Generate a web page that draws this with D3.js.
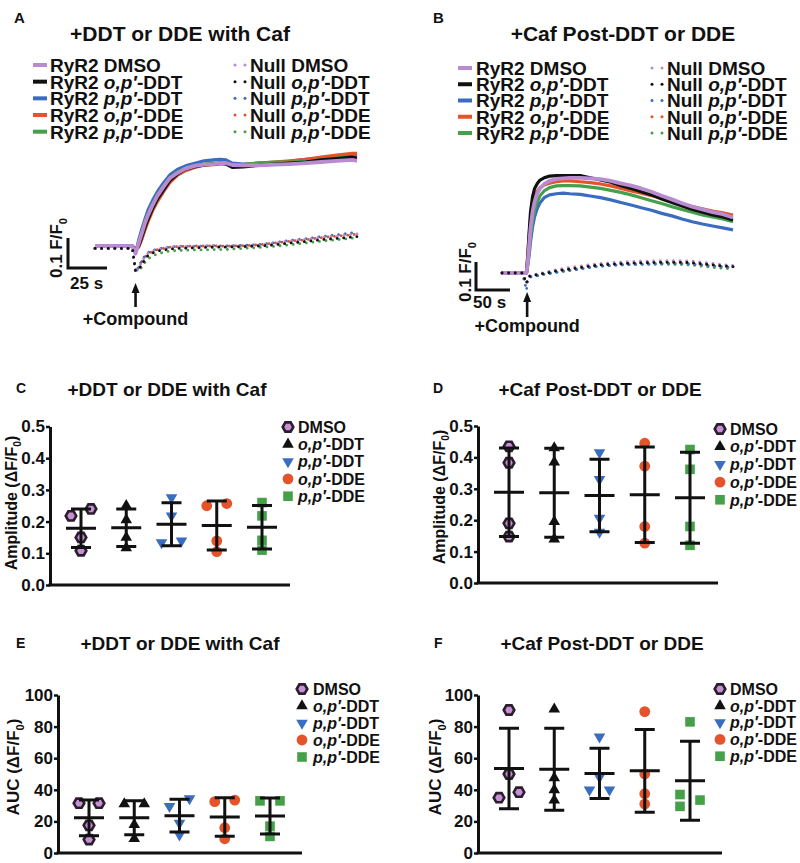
<!DOCTYPE html>
<html>
<head>
<meta charset="UTF-8" />
<title>DDT / DDE on RyR2</title>
<style>
  body { margin: 0; background: #fff; }
  svg { display: block; font-family: 'Liberation Sans', Arial, Helvetica, sans-serif; font-weight: bold; }
</style>
</head>
<body>
<svg id="fig" width="800" height="863"></svg>
<script src="https://cdnjs.cloudflare.com/ajax/libs/d3/7.8.5/d3.min.js"></script>
<script>
// ---- data ----
const compounds = ['DMSO', 'o,p′-DDT', 'p,p′-DDT', 'o,p′-DDE', 'p,p′-DDE']
const colors = ['#b98bd1', '#111111', '#3a6cc0', '#e4532a', '#46a04a']

// A: time (s) and F/F0 traces, compound added at 26 s
const timeA = [0, 10, 20, 24, 26, 28, 30, 32, 34, 37, 40, 44, 48, 53, 58, 64, 70, 76, 80, 84, 88, 95, 105, 115, 125, 135, 145, 155, 165, 168]
const ryrA = [
  [1, 1, 1, 1, 0.975, 1.009, 1.042, 1.076, 1.103, 1.137, 1.167, 1.198, 1.226, 1.244, 1.258, 1.267, 1.271, 1.273, 1.276, 1.276, 1.27, 1.269, 1.269, 1.271, 1.273, 1.276, 1.28, 1.284, 1.287, 1.284],
  [1, 1, 1, 1, 0.987, 1.0, 1.029, 1.062, 1.089, 1.126, 1.156, 1.187, 1.218, 1.24, 1.256, 1.264, 1.27, 1.273, 1.276, 1.273, 1.262, 1.264, 1.269, 1.273, 1.276, 1.28, 1.287, 1.291, 1.296, 1.293],
  [1, 1, 1, 1, 0.975, 1.02, 1.056, 1.089, 1.12, 1.153, 1.181, 1.211, 1.237, 1.256, 1.267, 1.276, 1.284, 1.287, 1.289, 1.287, 1.276, 1.273, 1.276, 1.278, 1.282, 1.289, 1.292, 1.298, 1.301, 1.3],
  [1, 1, 1, 1, 0.987, 0.996, 1.022, 1.053, 1.081, 1.118, 1.148, 1.181, 1.211, 1.236, 1.251, 1.262, 1.269, 1.271, 1.273, 1.276, 1.271, 1.271, 1.276, 1.28, 1.284, 1.289, 1.296, 1.303, 1.309, 1.309],
  [1, 1, 1, 1, 0.981, 1.011, 1.044, 1.078, 1.107, 1.14, 1.17, 1.2, 1.228, 1.247, 1.26, 1.269, 1.273, 1.276, 1.276, 1.276, 1.271, 1.271, 1.276, 1.28, 1.28, 1.282, 1.287, 1.292, 1.296, 1.296]
]
const nullA = [
  [0.992, 0.992, 0.992, 0.992, 0.909, 0.926, 0.948, 0.964, 0.976, 0.983, 0.989, 0.992, 0.996, 0.998, 0.998, 0.998, 1.0, 1.0, 0.998, 0.998, 1.0, 1.0, 1.003, 1.009, 1.017, 1.022, 1.029, 1.033, 1.039, 1.04],
  [0.992, 0.992, 0.992, 0.992, 0.918, 0.922, 0.938, 0.955, 0.968, 0.977, 0.983, 0.987, 0.99, 0.992, 0.993, 0.994, 0.995, 0.996, 0.996, 0.996, 0.997, 0.998, 1.0, 1.004, 1.01, 1.015, 1.021, 1.025, 1.03, 1.031],
  [0.992, 0.992, 0.992, 0.992, 0.912, 0.93, 0.952, 0.967, 0.978, 0.985, 0.99, 0.993, 0.997, 0.999, 0.999, 0.999, 1.0, 1.001, 1.0, 1.0, 1.001, 1.002, 1.005, 1.011, 1.019, 1.024, 1.031, 1.037, 1.044, 1.046],
  [0.992, 0.992, 0.992, 0.992, 0.915, 0.928, 0.948, 0.962, 0.974, 0.982, 0.988, 0.992, 0.996, 0.998, 0.999, 1.0, 1.0, 1.0, 1.0, 0.999, 1.0, 1.001, 1.004, 1.01, 1.016, 1.021, 1.028, 1.033, 1.038, 1.039],
  [0.992, 0.992, 0.992, 0.992, 0.92, 0.918, 0.93, 0.945, 0.957, 0.967, 0.974, 0.979, 0.983, 0.985, 0.986, 0.987, 0.987, 0.988, 0.988, 0.988, 0.99, 0.992, 0.995, 0.999, 1.004, 1.01, 1.016, 1.021, 1.026, 1.028]
]

// B: time (s) and F/F0 traces, compound added at 37 s
const timeB = [0, 10, 20, 30, 36, 38, 40, 42, 45, 48, 52, 56, 62, 70, 80, 90, 100, 115, 130, 145, 160, 175, 190, 205, 220, 235, 250, 265, 280, 295, 310, 325, 340]
const ryrB = [
  [1, 1, 1, 1, 1, 1.04, 1.1, 1.16, 1.219, 1.255, 1.285, 1.302, 1.317, 1.329, 1.336, 1.338, 1.34, 1.34, 1.338, 1.335, 1.329, 1.32, 1.312, 1.302, 1.29, 1.276, 1.263, 1.249, 1.237, 1.227, 1.217, 1.21, 1.198],
  [1, 1, 1, 1, 1, 1.064, 1.148, 1.219, 1.273, 1.302, 1.32, 1.332, 1.34, 1.346, 1.348, 1.348, 1.348, 1.348, 1.34, 1.332, 1.324, 1.312, 1.302, 1.29, 1.279, 1.264, 1.252, 1.239, 1.227, 1.217, 1.207, 1.2, 1.189],
  [1, 1, 1, 1, 1, 1.029, 1.064, 1.112, 1.165, 1.201, 1.231, 1.251, 1.269, 1.279, 1.283, 1.285, 1.283, 1.281, 1.275, 1.269, 1.261, 1.252, 1.243, 1.233, 1.224, 1.213, 1.204, 1.193, 1.183, 1.175, 1.168, 1.161, 1.154],
  [1, 1, 1, 1, 1, 1.064, 1.136, 1.195, 1.243, 1.273, 1.293, 1.305, 1.314, 1.321, 1.326, 1.329, 1.329, 1.326, 1.323, 1.318, 1.311, 1.302, 1.293, 1.285, 1.276, 1.267, 1.255, 1.245, 1.237, 1.229, 1.221, 1.215, 1.207],
  [1, 1, 1, 1, 1, 1.04, 1.088, 1.136, 1.189, 1.225, 1.255, 1.276, 1.293, 1.305, 1.311, 1.312, 1.312, 1.311, 1.307, 1.302, 1.295, 1.288, 1.279, 1.269, 1.258, 1.248, 1.237, 1.227, 1.217, 1.207, 1.2, 1.193, 1.183]
]
const nullB = [
  [1, 1, 1, 1, 0.963, 0.981, 0.988, 0.991, 0.992, 0.995, 0.996, 0.998, 1.002, 1.006, 1.012, 1.016, 1.02, 1.025, 1.03, 1.034, 1.037, 1.039, 1.041, 1.042, 1.043, 1.044, 1.044, 1.044, 1.043, 1.039, 1.034, 1.03, 1.027],
  [1, 1, 1, 1, 0.963, 0.981, 0.987, 0.99, 0.99, 0.993, 0.993, 0.995, 0.999, 1.002, 1.007, 1.011, 1.014, 1.019, 1.025, 1.029, 1.031, 1.033, 1.035, 1.036, 1.037, 1.038, 1.038, 1.038, 1.037, 1.033, 1.029, 1.025, 1.023],
  [1, 1, 1, 1, 0.939, 0.976, 0.983, 0.986, 0.987, 0.989, 0.99, 0.992, 0.995, 0.998, 1.002, 1.006, 1.009, 1.014, 1.02, 1.024, 1.027, 1.029, 1.03, 1.031, 1.032, 1.033, 1.033, 1.033, 1.032, 1.029, 1.025, 1.022, 1.02],
  [1, 1, 1, 1, 0.963, 0.982, 0.988, 0.991, 0.992, 0.994, 0.995, 0.997, 1.0, 1.004, 1.009, 1.013, 1.016, 1.021, 1.026, 1.03, 1.032, 1.034, 1.036, 1.037, 1.038, 1.038, 1.038, 1.037, 1.035, 1.031, 1.028, 1.025, 1.022],
  [1, 1, 1, 1, 0.963, 0.978, 0.984, 0.987, 0.988, 0.99, 0.991, 0.993, 0.996, 0.999, 1.003, 1.007, 1.01, 1.015, 1.021, 1.025, 1.027, 1.029, 1.03, 1.031, 1.031, 1.031, 1.031, 1.03, 1.028, 1.024, 1.02, 1.017, 1.015]
]

// C-F: individual experiments per compound
const ampWith = [
  [0.218, 0.24, 0.15, 0.108],
  [0.25, 0.205, 0.15, 0.117],
  [0.276, 0.218, 0.134, 0.139],
  [0.25, 0.257, 0.139, 0.105],
  [0.26, 0.218, 0.141, 0.11]
]
const ampPost = [
  [0.435, 0.383, 0.19, 0.148],
  [0.43, 0.385, 0.195, 0.14],
  [0.415, 0.33, 0.207, 0.162],
  [0.445, 0.372, 0.18, 0.127],
  [0.425, 0.362, 0.18, 0.12]
]
const aucWith = [
  [31.5, 31.5, 17.5, 8.5],
  [31, 31, 18, 9],
  [29.5, 34.5, 19, 11.5],
  [32.5, 33.5, 16, 9],
  [33, 33, 17, 10.5]
]
const aucPost = [
  [90.5, 50, 38.5, 35],
  [91, 47.5, 40, 33.5],
  [73.5, 48, 40, 40],
  [89.5, 50, 37.5, 31],
  [83, 37, 33.5, 29.5]
]
const ampTicks = [0, 0.1, 0.2, 0.3, 0.4, 0.5]
const aucTicks = [0, 20, 40, 60, 80, 100]

const titleWith = '+DDT or DDE with Caf'
const titlePost = '+Caf Post-DDT or DDE'

// ---- drawing ----
const svg = d3.select('#fig')

function addName(t, name) {
  const m = name.match(/^([op],p′)(.*)$/)
  if (m) {
    t.append('tspan').attr('font-style', 'italic').text(m[1])
    t.append('tspan').text(m[2])
  } else {
    t.append('tspan').text(name)
  }
}

function addSub0(t, before, after, size) {
  t.append('tspan').text(before)
  t.append('tspan').attr('font-size', size * 0.65).attr('dy', size * 0.28).text('0')
  if (after) t.append('tspan').attr('dy', -size * 0.28).text(after)
}

function plainText(x, y, str, size, anchor) {
  return svg.append('text').attr('x', x).attr('y', y).attr('font-size', size)
    .attr('text-anchor', anchor || 'start').attr('fill', '#111').text(str)
}

function tracePanel(p) {
  const x = d3.scaleLinear().domain([0, p.t[p.t.length - 1]]).range([p.x0, p.x1])
  const y = d3.scaleLinear().domain([1, 1.1]).range([p.yBase, p.yBase - p.px01])
  const line = d3.line().x((d, i) => x(p.t[i])).y(d => y(d))
  const g = svg.append('g')

  const solidOrder = [2, 3, 4, 1, 0]
  solidOrder.forEach(i => {
    g.append('path').datum(p.ryr[i]).attr('d', line)
      .attr('fill', 'none').attr('stroke', colors[i])
      .attr('stroke-width', i === 0 ? 3.8 : 3.2).attr('stroke-linejoin', 'round')
  })
  const nullOrder = [4, 3, 2, 0, 1]
  nullOrder.forEach(i => {
    g.append('path').datum(p.nul[i]).attr('d', line)
      .attr('fill', 'none').attr('stroke', colors[i])
      .attr('stroke-width', 2.8).attr('stroke-linecap', 'round')
      .attr('stroke-dasharray', '0.1,6.5')
  })

  // scale bars
  const barH = y(1) - y(1.1)
  const barW = x(p.barT) - x(0)
  g.append('path')
    .attr('d', `M${p.barX},${p.barY - barH}V${p.barY}H${p.barX + barW}`)
    .attr('fill', 'none').attr('stroke', '#111').attr('stroke-width', 3)
  const vl = svg.append('text').attr('font-size', 17).attr('fill', '#111')
    .attr('text-anchor', 'middle')
    .attr('transform', `translate(${p.vlabX},${p.vlabY}) rotate(-90)`)
  addSub0(vl, '0.1 F/F', '', 17)
  plainText(p.barX + p.hlabDx, p.hlabY, p.barT + ' s', 17)

  // compound arrow
  const ax = x(p.tComp)
  g.append('line').attr('x1', ax).attr('x2', ax).attr('y1', p.arrowBot).attr('y2', p.arrowTop + 6)
    .attr('stroke', '#111').attr('stroke-width', 2.6)
  g.append('path').attr('d', `M${ax},${p.arrowTop}l-4,10h8z`).attr('fill', '#111')
  plainText(ax, p.compY, '+Compound', 18, 'middle')

  // legend
  compounds.forEach((c, i) => {
    const yy = p.leg.y0 + i * p.leg.dy
    g.append('line').attr('x1', p.leg.sx).attr('x2', p.leg.sx + 14)
      .attr('y1', yy).attr('y2', yy).attr('stroke', colors[i]).attr('stroke-width', 4)
    const t1 = g.append('text').attr('x', p.leg.tx).attr('y', yy).attr('dy', '0.36em')
      .attr('font-size', 19).attr('fill', '#111')
    t1.append('tspan').text('RyR2 ')
    addName(t1, c)
    ;[0, 10].forEach(o => {
      g.append('circle').attr('cx', p.leg.nx + o).attr('cy', yy).attr('r', 1.5).attr('fill', colors[i])
    })
    const t2 = g.append('text').attr('x', p.leg.ntx).attr('y', yy).attr('dy', '0.36em')
      .attr('font-size', 19).attr('fill', '#111')
    t2.append('tspan').text('Null ')
    addName(t2, c)
  })

  plainText(p.letter[0], p.letter[1], p.letter[2], 15)
  plainText(p.titleX, p.titleY, p.title, 21, 'middle')
}

function marker(g, i, cx, cy) {
  if (i === 0) {
    const r = 5.3
    const pts = d3.range(6).map(k => [cx + r * Math.cos(k * Math.PI / 3), cy + r * Math.sin(k * Math.PI / 3)])
    g.append('path').attr('d', d3.line()(pts) + 'Z')
      .attr('fill', '#c890d4').attr('stroke', '#2b1d2d').attr('stroke-width', 2.6)
  } else if (i === 1 || i === 2) {
    g.append('path').attr('d', d3.symbol(d3.symbolTriangle, 58)())
      .attr('transform', `translate(${cx},${cy})` + (i === 2 ? ' rotate(180)' : ''))
      .attr('fill', colors[i])
  } else if (i === 3) {
    g.append('circle').attr('cx', cx).attr('cy', cy).attr('r', 5.4).attr('fill', colors[i])
  } else {
    g.append('rect').attr('x', cx - 4.8).attr('y', cy - 4.8).attr('width', 9.6).attr('height', 9.6)
      .attr('fill', colors[i])
  }
}

// points that would overlap are spread left / right
function swarm(vals, y) {
  const order = d3.range(vals.length).sort((a, b) => vals[a] - vals[b])
  const offs = vals.map(() => 0)
  let cluster = [order[0]]
  const flush = () => {
    if (cluster.length > 1) cluster.forEach((k, j) => { offs[k] = j % 2 === 0 ? -10 : 10 })
  }
  for (let j = 1; j < order.length; j++) {
    if (Math.abs(y(vals[order[j - 1]]) - y(vals[order[j]])) < 9) cluster.push(order[j])
    else { flush(); cluster = [order[j]] }
  }
  flush()
  return offs
}

function scatterPanel(p) {
  const g = svg.append('g')
  const x = d3.scalePoint().domain(compounds).range([p.x0 + 31, p.x0 + 212])
  const y = d3.scaleLinear().domain([p.ticks[0], p.ticks[p.ticks.length - 1]]).range([p.yBot, p.yTop])

  const ax = g.append('g').attr('transform', `translate(${p.x0},0)`)
    .call(d3.axisLeft(y).tickValues(p.ticks).tickFormat(d3.format(p.fmt)).tickSize(4).tickSizeOuter(0).tickPadding(1))
  ax.attr('font-size', 17).attr('font-family', null).attr('font-weight', 'bold')
  ax.select('.domain').attr('stroke', '#111').attr('stroke-width', 3)
  ax.selectAll('.tick line').attr('stroke', '#111').attr('stroke-width', 2.5)
  ax.selectAll('.tick text').attr('fill', '#111')
  g.append('line').attr('x1', p.x0 - 1.5).attr('x2', p.x1).attr('y1', y(0)).attr('y2', y(0))
    .attr('stroke', '#111').attr('stroke-width', 3)

  p.data.forEach((vals, gi) => {
    const cx = x(compounds[gi])
    const offs = swarm(vals, y)
    vals.forEach((v, k) => marker(g, gi, cx + offs[k], y(v)))
  })
  p.data.forEach((vals, gi) => {
    const cx = x(compounds[gi])
    const m = d3.mean(vals), s = d3.deviation(vals)
    g.append('path')
      .attr('d', `M${cx - 15},${y(m)}H${cx + 15}M${cx - 10},${y(m + s)}H${cx + 10}M${cx - 10},${y(m - s)}H${cx + 10}M${cx},${y(m + s)}V${y(m - s)}`)
      .attr('fill', 'none').attr('stroke', '#111').attr('stroke-width', 3)
  })

  const yl = svg.append('text').attr('font-size', p.ylabSize).attr('fill', '#111')
    .attr('text-anchor', 'middle')
    .attr('transform', `translate(${p.ylabX},${p.ylabY}) rotate(-90)`)
  addSub0(yl, p.ylab + ' (ΔF/F', ')', p.ylabSize)

  compounds.forEach((c, i) => {
    const yy = p.leg.y0 + i * p.leg.dy
    marker(g, i, p.leg.mx, yy)
    const t = g.append('text').attr('x', p.leg.tx).attr('y', yy).attr('dy', '0.36em')
      .attr('font-size', 16).attr('fill', '#111')
    addName(t, c)
  })

  plainText(p.letter[0], p.letter[1], p.letter[2], 14)
  plainText(p.titleX, p.titleY, p.title, 19, 'middle')
}

tracePanel({
  t: timeA, ryr: ryrA, nul: nullA, x0: 95, x1: 357, yBase: 246, px01: 30, tComp: 26,
  barX: 68, barY: 268, barT: 25, vlabX: 62, vlabY: 248, hlabDx: 2, hlabY: 289,
  arrowTop: 283, arrowBot: 307, compY: 325,
  leg: { sx: 33, tx: 50, nx: 235, ntx: 250, y0: 65, dy: 16.67 },
  letter: [14, 23, 'A'], title: titleWith, titleX: 180, titleY: 41
})
tracePanel({
  t: timeB, ryr: ryrB, nul: nullB, x0: 502, x1: 733, yBase: 273, px01: 28, tComp: 37,
  barX: 476, barY: 290, barT: 50, vlabX: 471, vlabY: 272, hlabDx: -3, hlabY: 308,
  arrowTop: 292, arrowBot: 317, compY: 332,
  leg: { sx: 458, tx: 476, nx: 652, ntx: 667, y0: 68, dy: 16.25 },
  letter: [433, 23, 'B'], title: titlePost, titleX: 623, titleY: 41
})

scatterPanel({
  data: ampWith, ticks: ampTicks, fmt: '.1f', x0: 50, x1: 290, yTop: 426.5, yBot: 585,
  ylab: 'Amplitude', ylabSize: 16, ylabX: 17, ylabY: 503,
  leg: { mx: 288, tx: 298, y0: 427, dy: 17.3 },
  letter: [16, 393, 'C'], title: titleWith, titleX: 167, titleY: 396
})
scatterPanel({
  data: ampPost, ticks: ampTicks, fmt: '.1f', x0: 478, x1: 718, yTop: 426, yBot: 583,
  ylab: 'Amplitude', ylabSize: 16, ylabX: 445, ylabY: 497,
  leg: { mx: 720, tx: 730, y0: 429, dy: 17.7 },
  letter: [433, 393, 'D'], title: titlePost, titleX: 600, titleY: 396
})
scatterPanel({
  data: aucWith, ticks: aucTicks, fmt: 'd', x0: 58, x1: 302, yTop: 695, yBot: 853,
  ylab: 'AUC', ylabSize: 17, ylabX: 19, ylabY: 767,
  leg: { mx: 302, tx: 313, y0: 689, dy: 17 },
  letter: [16, 648, 'E'], title: titleWith, titleX: 180, titleY: 650
})
scatterPanel({
  data: aucPost, ticks: aucTicks, fmt: 'd', x0: 478, x1: 722, yTop: 695, yBot: 853,
  ylab: 'AUC', ylabSize: 17, ylabX: 441, ylabY: 767,
  leg: { mx: 720, tx: 730, y0: 689, dy: 16.8 },
  letter: [434, 648, 'F'], title: titlePost, titleX: 602, titleY: 650
})
</script>
</body>
</html>
